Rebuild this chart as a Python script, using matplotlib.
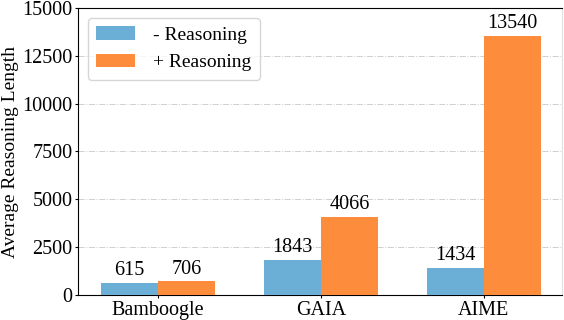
import matplotlib.pyplot as plt
import numpy as np

categories = ['Bamboogle', 'GAIA', 'AIME']
no_reasoning = [615, 1843, 1434]
with_reasoning = [706, 4066, 13540]
series_labels = ['- Reasoning', '+ Reasoning']

plt.rcParams['font.family'] = ['Liberation Serif', 'DejaVu Serif']

fig = plt.figure(figsize=(5.64, 3.2), dpi=100)
ax = fig.add_axes([78 / 564, 25 / 320, 484 / 564, 287 / 320])

x = np.arange(len(categories))
width = 0.35
b1 = ax.bar(x - width / 2, no_reasoning, width, color='#6baed6', label=series_labels[0], zorder=3)
b2 = ax.bar(x + width / 2, with_reasoning, width, color='#fd8d3c', label=series_labels[1], zorder=3)
ax.bar_label(b1, padding=2, fontsize=14.5)
ax.bar_label(b2, padding=2, fontsize=14.5)

ax.set_xticks(x, labels=categories)
ax.set_ylim(0, 15000)
ax.set_yticks(np.arange(0, 15001, 2500))
ax.tick_params(axis='both', labelsize=14.5, length=2.5, pad=1.5)
ax.set_xlim(-0.49, 2.48)
ax.set_ylabel('Average Reasoning Length', fontsize=14, labelpad=2)
ax.yaxis.grid(True, linestyle='-.', color='#d0d0d0', linewidth=0.7, zorder=0)
ax.spines['right'].set_color('#e0e0e0')
ax.legend(loc='upper left', fontsize=14, handlelength=2.0, handletextpad=0.9,
          borderpad=0.45, bbox_to_anchor=(0.0, 1.0))

fig.savefig('out.png', dpi=100)
